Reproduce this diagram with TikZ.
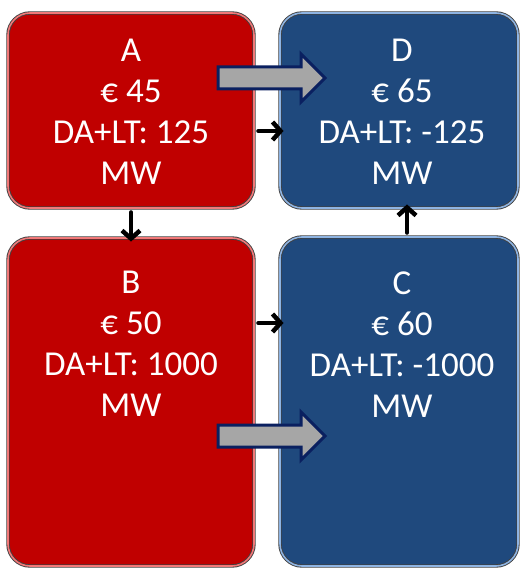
\documentclass[tikz,border=0pt]{standalone}
\usepackage{fontspec}
\setmainfont{Carlito}
\usetikzlibrary{arrows.meta}

\definecolor{zonered}{RGB}{192,0,0}
\definecolor{zoneblue}{RGB}{31,73,125}
\definecolor{redshine}{RGB}{242,120,120}
\definecolor{blueshine}{RGB}{142,180,227}
\definecolor{flowgray}{RGB}{166,166,166}
\definecolor{flownavy}{RGB}{10,32,96}

\tikzset{
  zone/.style={rectangle, rounded corners=22pt, inner sep=0pt, draw=black!75,
    line width=0.9pt, double distance=1.6pt},
  redzone/.style={zone, fill=zonered, double=redshine},
  bluezone/.style={zone, fill=zoneblue, double=blueshine},
  zonetext/.style={text=white, align=center, inner sep=0pt, anchor=north,
    font=\fontsize{35}{41}\selectfont},
  flow/.style={fill=flowgray, draw=flownavy, line width=3pt},
  link/.style={line width=4.5pt, line cap=round, line join=round,
    -{Straight Barb[length=8pt,width=18pt]}, shorten <=4pt, shorten >=-4pt}
}

\begin{document}
\begin{tikzpicture}[x=1pt, y=-1pt]
  \useasboundingbox (0,0) rectangle (520,572);
  % the four zones
  \node[redzone, minimum width=246pt, minimum height=195pt] (A) at (131,110.5) {};
  \node[bluezone, minimum width=238pt, minimum height=195pt] (D) at (399,110.5) {};
  \node[redzone, minimum width=246pt, minimum height=328pt] (B) at (131,402) {};
  \node[bluezone, minimum width=238pt, minimum height=329pt] (C) at (399,401.5) {};
  \node[zonetext] (Atxt) at (131,39) {A\\€ 45\\DA+LT: 125\\MW};
  \node[zonetext] (Dtxt) at (402,39) {D\\€ 65\\DA+LT: -125\\MW};
  \node[zonetext] (Btxt) at (131,271) {B\\€ 50\\DA+LT: 1000\\MW};
  \node[zonetext] (Ctxt) at (402,272) {C\\€ 60\\DA+LT: -1000\\MW};
  % big flows
  \draw[flow] (218,67) -- (301,67) -- (301,54) -- (325,78) -- (301,102) -- (301,89) -- (218,89) -- cycle;
  \draw[flow] (218,425) -- (301,425) -- (301,412) -- (325,436) -- (301,460) -- (301,447) -- (218,447) -- cycle;
  % small links
  \draw[link] ([yshift=-20.5pt]A.east) -- ([yshift=-20.5pt]D.west);
  \draw[link] ([yshift=79pt]B.east) -- ([yshift=78.5pt]C.west);
  \draw[link] (A.south) -- (B.north);
  \draw[link] ([xshift=8pt]C.north) -- ([xshift=8pt]D.south);
\end{tikzpicture}
\end{document}
